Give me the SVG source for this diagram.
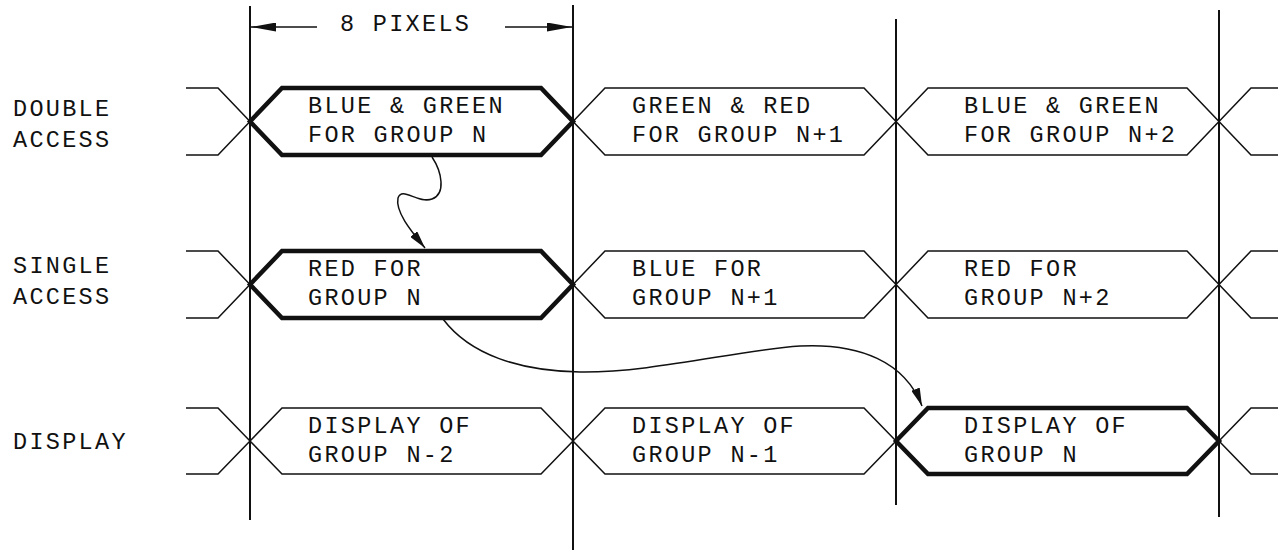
<svg xmlns="http://www.w3.org/2000/svg" width="1278" height="550" viewBox="0 0 1278 550">
<style>
.t{font-family:"Liberation Mono","DejaVu Sans Mono",monospace;font-size:23.5px;letter-spacing:2.3px;fill:#111}
.thin{fill:none;stroke:#111;stroke-width:1.5;stroke-linejoin:miter}
.thick{fill:none;stroke:#111;stroke-width:4.5;stroke-linejoin:miter}
.vl{stroke:#111;stroke-width:2}
.conn{fill:none;stroke:#111;stroke-width:1.5}
</style>
<defs>
<marker id="dim" markerWidth="25" markerHeight="9" refX="25" refY="4.5" orient="auto" markerUnits="userSpaceOnUse"><path d="M0,0 L25,4.5 L0,9 z" fill="#111"/></marker>
<marker id="ah" markerWidth="18" markerHeight="9" refX="18" refY="4.5" orient="auto" markerUnits="userSpaceOnUse"><path d="M0,0 L18,4.5 L0,9 z" fill="#111"/></marker>
</defs>
<rect width="1278" height="550" fill="#fff"/>

<g id="gridlines">
<line class="vl" x1="250" y1="6" x2="250" y2="520"/>
<line class="vl" x1="573" y1="5" x2="573" y2="550"/>
<line class="vl" x1="896" y1="19" x2="896" y2="505"/>
<line class="vl" x1="1219" y1="10" x2="1219" y2="517"/>
</g>

<g id="dimension">
<line class="conn" x1="317" y1="27" x2="251" y2="27" marker-end="url(#dim)"/>
<line class="conn" x1="505" y1="27" x2="572" y2="27" marker-end="url(#dim)"/>
<text class="t" x="340" y="31">8 PIXELS</text>
</g>

<g id="labels">
<text class="t" x="13" y="116">DOUBLE</text>
<text class="t" x="13" y="147">ACCESS</text>
<text class="t" x="13" y="273">SINGLE</text>
<text class="t" x="13" y="304">ACCESS</text>
<text class="t" x="13" y="449">DISPLAY</text>
</g>

<!-- Row 1: T=88 B=155 M=121.5 -->
<g id="row1-stubs">
<polyline class="thin" points="186,88 218,88 250,121.5 218,155 186,155"/>
<polyline class="thin" points="1278,88 1251,88 1219,121.5 1251,155 1278,155"/>
</g>
<g id="d1">
<polygon class="thick" points="250,121.5 282,88 541,88 573,121.5 541,155 282,155"/>
<text class="t" x="308" y="113">BLUE &amp; GREEN</text>
<text class="t" x="308" y="142">FOR GROUP N</text>
</g>
<g id="d2">
<polygon class="thin" points="573,121.5 605,88 864,88 896,121.5 864,155 605,155"/>
<text class="t" x="632" y="113">GREEN &amp; RED</text>
<text class="t" x="632" y="142">FOR GROUP N+1</text>
</g>
<g id="d3">
<polygon class="thin" points="896,121.5 928,88 1187,88 1219,121.5 1187,155 928,155"/>
<text class="t" x="964" y="113">BLUE &amp; GREEN</text>
<text class="t" x="964" y="142">FOR GROUP N+2</text>
</g>

<!-- Row 2: T=251 B=318 M=284.5 -->
<g id="row2-stubs">
<polyline class="thin" points="186,251 218,251 250,284.5 218,318 186,318"/>
<polyline class="thin" points="1278,251 1251,251 1219,284.5 1251,318 1278,318"/>
</g>
<g id="s1">
<polygon class="thick" points="250,284.5 282,251 541,251 573,284.5 541,318 282,318"/>
<text class="t" x="308" y="276">RED FOR</text>
<text class="t" x="308" y="305">GROUP N</text>
</g>
<g id="s2">
<polygon class="thin" points="573,284.5 605,251 864,251 896,284.5 864,318 605,318"/>
<text class="t" x="632" y="276">BLUE FOR</text>
<text class="t" x="632" y="305">GROUP N+1</text>
</g>
<g id="s3">
<polygon class="thin" points="896,284.5 928,251 1187,251 1219,284.5 1187,318 928,318"/>
<text class="t" x="964" y="276">RED FOR</text>
<text class="t" x="964" y="305">GROUP N+2</text>
</g>

<!-- Row 3: T=408 B=474 M=441 -->
<g id="row3-stubs">
<polyline class="thin" points="186,408 218,408 250,441 218,474 186,474"/>
<polyline class="thin" points="1278,408 1251,408 1219,441 1251,474 1278,474"/>
</g>
<g id="p1">
<polygon class="thin" points="250,441 282,408 541,408 573,441 541,474 282,474"/>
<text class="t" x="308" y="433">DISPLAY OF</text>
<text class="t" x="308" y="462">GROUP N-2</text>
</g>
<g id="p2">
<polygon class="thin" points="573,441 605,408 864,408 896,441 864,474 605,474"/>
<text class="t" x="632" y="433">DISPLAY OF</text>
<text class="t" x="632" y="462">GROUP N-1</text>
</g>
<g id="p3">
<polygon class="thick" points="896,441 928,408 1187,408 1219,441 1187,474 928,474"/>
<text class="t" x="964" y="433">DISPLAY OF</text>
<text class="t" x="964" y="462">GROUP N</text>
</g>

<g id="connectors">
<path class="conn" d="M432,157 C442,172 446,194 432,199 C418,204 402,186 398,198 C395,212 412,232 425,248" marker-end="url(#ah)"/>
<path class="conn" d="M443,319 C470,355 520,371 580,372 C650,373 740,350 800,346 C860,343 905,362 922,406" marker-end="url(#ah)"/>
</g>
</svg>
